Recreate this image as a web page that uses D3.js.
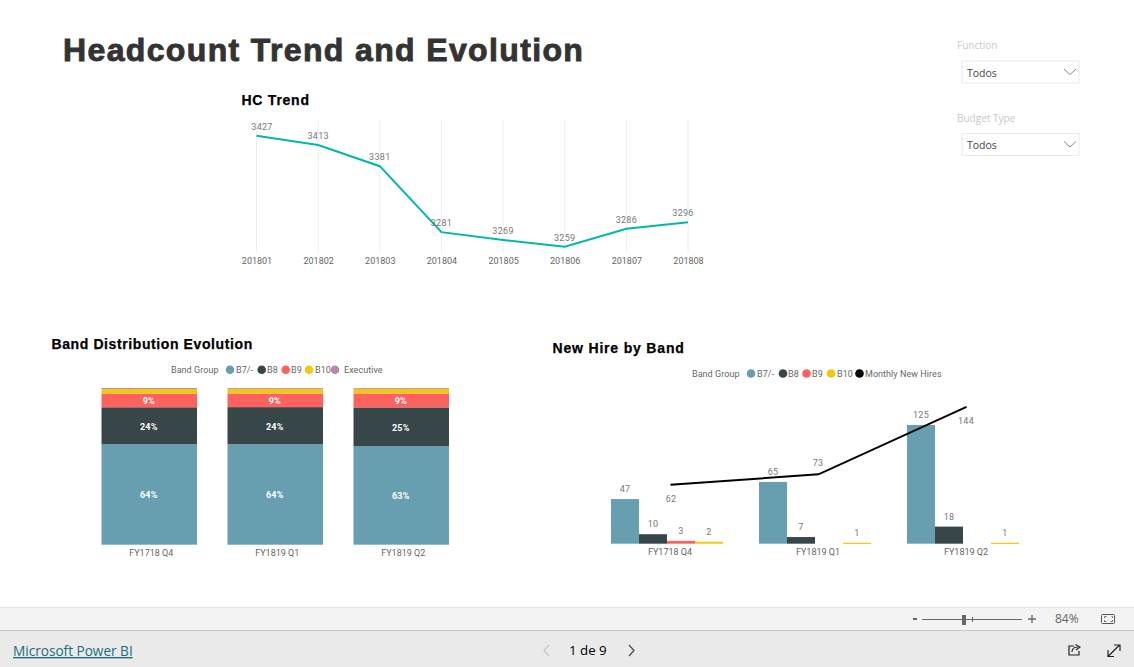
<!DOCTYPE html>
<html><head><meta charset="utf-8">
<script src="https://cdn.jsdelivr.net/npm/d3@7/dist/d3.min.js"></script>
<style>
html,body{margin:0;padding:0;background:#fff;overflow:hidden}
svg{display:block}
text{font-family:Roboto,"Noto Sans",sans-serif}
.num{font-size:9px;letter-spacing:.3px;fill:#777}
.tick text{font-size:9px;fill:#666;font-family:Roboto,sans-serif}
.h2{font-family:"Liberation Sans",Arial,sans-serif;font-weight:700;font-size:14px;fill:#000;stroke:#000;stroke-width:.25px}
.leg{font-size:9px;letter-spacing:.05px;fill:#666}
.seg{font-size:9px;font-weight:700;fill:#fff;letter-spacing:.2px}
</style></head><body>
<svg id="c" width="1134" height="667"></svg>
<script>
// ---- data ----
const months = ["201801","201802","201803","201804","201805","201806","201807","201808"];
const headcount = [3427,3413,3381,3281,3269,3259,3286,3296];
const quarters = ["FY1718 Q4","FY1819 Q1","FY1819 Q2"];
const bandNames = ["B7/-","B8","B9","B10","Executive"];
const shareB7 = [64.1,64.1,62.8];
const shareB8 = [23.6,23.7,24.8];
const shareB9 = [8.7,8.7,8.9];
const shareB10 = [3.0,3.0,3.0];
const shareExec = [0.6,0.5,0.5];
const shareLabels = {"B7/-":["64%","64%","63%"],"B8":["24%","24%","25%"],"B9":["9%","9%","9%"]};
const hireBands = ["B7/-","B8","B9","B10"];
const hiresB7 = [47,65,125];
const hiresB8 = [10,7,18];
const hiresB9 = [3,null,null];
const hiresB10 = [2,1,1];
const monthlyHires = [62,73,144];

// ---- style / layout ----
const colors = {"B7/-":"#689FB0","B8":"#374649","B9":"#FD625E","B10":"#F2C80F","Executive":"#B887AD","Monthly New Hires":"#000"};
const svg = d3.select("#c");
const txt = (x,y,s,cls,anchor)=>svg.append("text").attr("x",x).attr("y",y).attr("class",cls||null)
  .attr("text-anchor",anchor||"start").text(s);
const noLine = g=>{g.select(".domain").remove();g.selectAll(".tick line").remove();};

// title
txt(63,61,"Headcount Trend and Evolution").attr("style",
 'font-family:"Liberation Sans",Arial,sans-serif;font-weight:700;font-size:32px;letter-spacing:1.36px;fill:#333;stroke:#333;stroke-width:.9px');

// ---- HC Trend ----
txt(241.5,105,"HC Trend","h2").attr("letter-spacing",.75);
const xT = d3.scalePoint().domain(months).range([256.5,688]);
const yT = d3.scaleLinear().domain([3249.4,3451]).range([253,120]);
svg.append("g").selectAll("line").data(months).join("line")
  .attr("x1",d=>xT(d)).attr("x2",d=>xT(d)).attr("y1",120).attr("y2",253)
  .attr("stroke","#eee").attr("stroke-width",1);
svg.append("g").attr("transform","translate(0,253)")
  .call(d3.axisBottom(xT).tickSize(0).tickPadding(5)).call(noLine);
svg.append("path").datum(headcount)
  .attr("d",d3.line().x((d,i)=>xT(months[i])).y(d=>yT(d)))
  .attr("fill","none").attr("stroke","#01B8AA").attr("stroke-width",2);
const hcDx = [5.5,0,0,0,0,0,0,-5];
svg.append("g").selectAll("text").data(headcount).join("text").attr("class","num")
  .attr("text-anchor","middle")
  .attr("x",(d,i)=>xT(months[i])+hcDx[i]).attr("y",d=>yT(d)-5.8).text(d=>d);

// ---- Band Distribution ----
txt(51.5,349,"Band Distribution Evolution","h2").attr("letter-spacing",.6);
function legend(y,titleX,items){
  txt(titleX,y+3.3,"Band Group","leg").attr("letter-spacing",.2);
  items.forEach(it=>{
    svg.append("circle").attr("cx",it[1]).attr("cy",y).attr("r",4.3).attr("fill",colors[it[0]]);
    txt(it[2],y+3.3,it[0],"leg");
  });
}
legend(369.7,171,[["B7/-",230,236],["B8",261.7,267],["B9",285.7,291],["B10",309,315],["Executive",335,344]]);
const x2 = d3.scaleBand().domain(quarters).range([86.25,464.25]).paddingInner(30.5/126).paddingOuter(15.25/126);
const y2 = d3.scaleLinear().domain([0,100]).range([544.7,388]);
const shareRows = quarters.map((q,i)=>({q,"B7/-":shareB7[i],"B8":shareB8[i],"B9":shareB9[i],"B10":shareB10[i],"Executive":shareExec[i],i}));
const stacked = d3.stack().keys(bandNames)(shareRows);
stacked.forEach(s=>{
  svg.append("g").selectAll("rect").data(s).join("rect")
    .attr("x",d=>x2(d.data.q)).attr("width",x2.bandwidth())
    .attr("y",d=>y2(d[1])).attr("height",d=>y2(d[0])-y2(d[1]))
    .attr("fill",colors[s.key]);
  if(shareLabels[s.key]) svg.append("g").selectAll("text").data(s).join("text").attr("class","seg")
    .attr("text-anchor","middle").attr("x",d=>x2(d.data.q)+x2.bandwidth()/2-0.5)
    .attr("y",d=>(y2(d[0])+y2(d[1]))/2+4).text(d=>shareLabels[s.key][d.data.i]);
});
svg.append("g").attr("transform","translate(2,544.7)")
  .call(d3.axisBottom(x2).tickSize(0).tickPadding(5)).call(noLine);

// ---- New Hire by Band ----
txt(552.5,353,"New Hire by Band","h2").attr("letter-spacing",.82);
legend(373.5,692,[["B7/-",751,757],["B8",783,788],["B9",806.5,812],["B10",831,837],["Monthly New Hires",859.5,865]]);
const x3 = d3.scaleBand().domain(quarters).range([593,1037]).paddingInner(36/148).paddingOuter(18/148);
const x3s = d3.scaleBand().domain(hireBands).range([0,x3.bandwidth()]);
const y3 = d3.scaleLinear().domain([0,150]).range([543.7,401.2]);
const hires = {"B7/-":hiresB7,"B8":hiresB8,"B9":hiresB9,"B10":hiresB10};
hireBands.forEach(b=>{
  const rows = quarters.map((q,i)=>({q,v:hires[b][i]})).filter(d=>d.v!=null);
  svg.append("g").selectAll("rect").data(rows).join("rect")
    .attr("x",d=>x3(d.q)+x3s(b)).attr("width",x3s.bandwidth())
    .attr("y",d=>y3(d.v)).attr("height",d=>Math.max(y3(0)-y3(d.v),1.2))
    .attr("fill",colors[b]);
  svg.append("g").selectAll("text").data(rows).join("text").attr("class","num")
    .attr("text-anchor","middle").attr("x",d=>x3(d.q)+x3s(b)+x3s.bandwidth()/2)
    .attr("y",d=>y3(d.v)-7).text(d=>d.v);
});
svg.append("g").attr("transform","translate(3,543.7)")
  .call(d3.axisBottom(x3).tickSize(0).tickPadding(5)).call(noLine);
svg.append("path").datum(monthlyHires)
  .attr("d",d3.line().x((d,i)=>x3(quarters[i])+x3.bandwidth()/2+3.5).y(d=>y3(d)))
  .attr("fill","none").attr("stroke","#000").attr("stroke-width",2);
const lineDy = [17.5,-8,17.5];
svg.append("g").selectAll("text").data(monthlyHires).join("text").attr("class","num")
  .attr("text-anchor","middle").attr("x",(d,i)=>x3(quarters[i])+x3.bandwidth()/2+3+[1,0,0][i])
  .attr("y",(d,i)=>y3(d)+lineDy[i]).text(d=>d);

// ---- slicers ----
function slicer(label,ly,by){
  txt(957,ly,label).attr("style","font-size:10px;fill:#c8c8c8;font-family:'Open Sans',sans-serif");
  svg.append("rect").attr("x",962).attr("y",by).attr("width",117).attr("height",22)
    .attr("fill","#fff").attr("stroke","#eaeaea");
  txt(967,by+15.5,"Todos").attr("style","font-size:10.5px;fill:#444;font-family:'Open Sans',sans-serif");
  svg.append("path").attr("d",`M1064 ${by+8}L1070 ${by+13.5}L1076 ${by+8}`).attr("fill","none").attr("stroke","#888");
}
slicer("Function",49,61);
slicer("Budget Type",122,133.5);

// ---- report chrome ----
svg.append("rect").attr("x",0).attr("y",607).attr("width",1134).attr("height",23).attr("fill","#f3f3f3");
svg.append("rect").attr("x",0).attr("y",607).attr("width",1134).attr("height",1).attr("fill","#e4e4e4");
svg.append("rect").attr("x",0).attr("y",630).attr("width",1134).attr("height",37).attr("fill","#eaeaea");
svg.append("rect").attr("x",0).attr("y",630).attr("width",1134).attr("height",1).attr("fill","#c8c8c8");
txt(13,656,"Microsoft Power BI").attr("style","font-size:13.6px;fill:#1b6e7a;text-decoration:underline;font-family:'Open Sans',sans-serif");
txt(569,655,"1 de 9").attr("style","font-size:13.3px;fill:#000;font-family:'Open Sans',sans-serif");
svg.append("path").attr("d","M549 645L544 650.5L549 656").attr("fill","none").attr("stroke","#c4c4c4").attr("stroke-width",1.2);
svg.append("path").attr("d","M629 645L634 650.5L629 656").attr("fill","none").attr("stroke","#444").attr("stroke-width",1.2);
// zoom control
svg.append("rect").attr("x",913).attr("y",618).attr("width",4).attr("height",2).attr("fill","#666");
svg.append("rect").attr("x",922).attr("y",619).attr("width",100).attr("height",1).attr("fill","#666");
svg.append("rect").attr("x",962).attr("y",615).attr("width",4).attr("height",10).attr("fill","#666");
svg.append("rect").attr("x",972).attr("y",617).attr("width",1).attr("height",5).attr("fill","#666");
svg.append("path").attr("d","M1028 619H1036M1032 615V623").attr("stroke","#666").attr("stroke-width",1.3);
txt(1055,623,"84%").attr("style","font-size:12px;fill:#666;font-family:'Open Sans',sans-serif");
svg.append("rect").attr("x",1101.5).attr("y",614.5).attr("width",13).attr("height",9).attr("rx",1).attr("fill","none").attr("stroke","#555");
svg.append("path").attr("d","M1104.5 618V616.5H1106.5M1111.5 616.5H1112.5V618M1104.5 620V621.5H1106.5M1112.5 620V621.5H1110.5").attr("fill","none").attr("stroke","#555").attr("stroke-width",.8);
// share + expand
svg.append("path").attr("d","M1074 646H1069V655H1079V651").attr("fill","none").attr("stroke","#222").attr("stroke-width",1.2);
svg.append("path").attr("d","M1072 652C1072 648 1075 647 1078 647M1075.5 644.5L1080 647L1076 650").attr("fill","none").attr("stroke","#222").attr("stroke-width",1.1);
svg.append("path").attr("d","M1108.5 656L1119.5 645M1114 645H1120V651M1108 650V656.5H1114").attr("fill","none").attr("stroke","#222").attr("stroke-width",1.2);
</script></body></html>
